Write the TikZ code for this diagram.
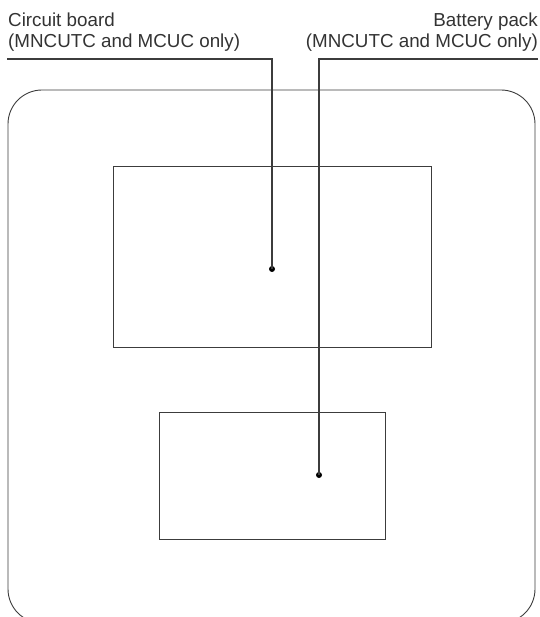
\documentclass[tikz,border=0pt]{standalone}
\usepackage{fontspec}
\setmainfont{Liberation Sans}
\definecolor{ink}{HTML}{3C3C3C}
\definecolor{txt}{HTML}{333333}
\tikzset{
  outline/.style={draw=ink, line width=0.9pt},
  part/.style={draw=ink, line width=1pt, inner sep=0pt, minimum width=#1},
  leader/.style={draw=ink, line width=1.3pt},
  tip/.style={fill=black, circle, inner sep=0pt, minimum size=6pt},
  callout/.style={inner sep=0pt, text=txt, font=\fontsize{18.8}{21.5}\selectfont}
}
\begin{document}
\begin{tikzpicture}[x=1pt, y=-1pt]
  \useasboundingbox (0,0) rectangle (539,617);
  \clip (0,0) rectangle (539,617);
  % housing outline (lower edge runs past the frame)
  \draw[outline, rounded corners=34pt] (8,90) rectangle (535,623);
  % internal parts
  \node[part=318pt, minimum height=180pt] (board) at (272,257) {};
  \node[part=226pt, minimum height=127pt] (battery) at (272,475.5) {};
  % callout points
  \node[tip] (boarddot) at (272,269) {};
  \node[tip] (batterydot) at (319,475) {};
  % labels
  \node[callout, anchor=north west, align=left] (boardlbl) at (8,12.5)
    {Circuit board\\(MNCUTC and MCUC only)};
  \node[callout, anchor=north east, align=right] (batterylbl) at (538,12.5)
    {Battery pack\\(MNCUTC and MCUC only)};
  % leader lines
  \coordinate (boardstart) at (7,59);
  \coordinate (batterystart) at (538,59);
  \draw[leader] (boardstart) -| (boarddot.center);
  \draw[leader] (batterystart) -| (batterydot.center);
\end{tikzpicture}
\end{document}
